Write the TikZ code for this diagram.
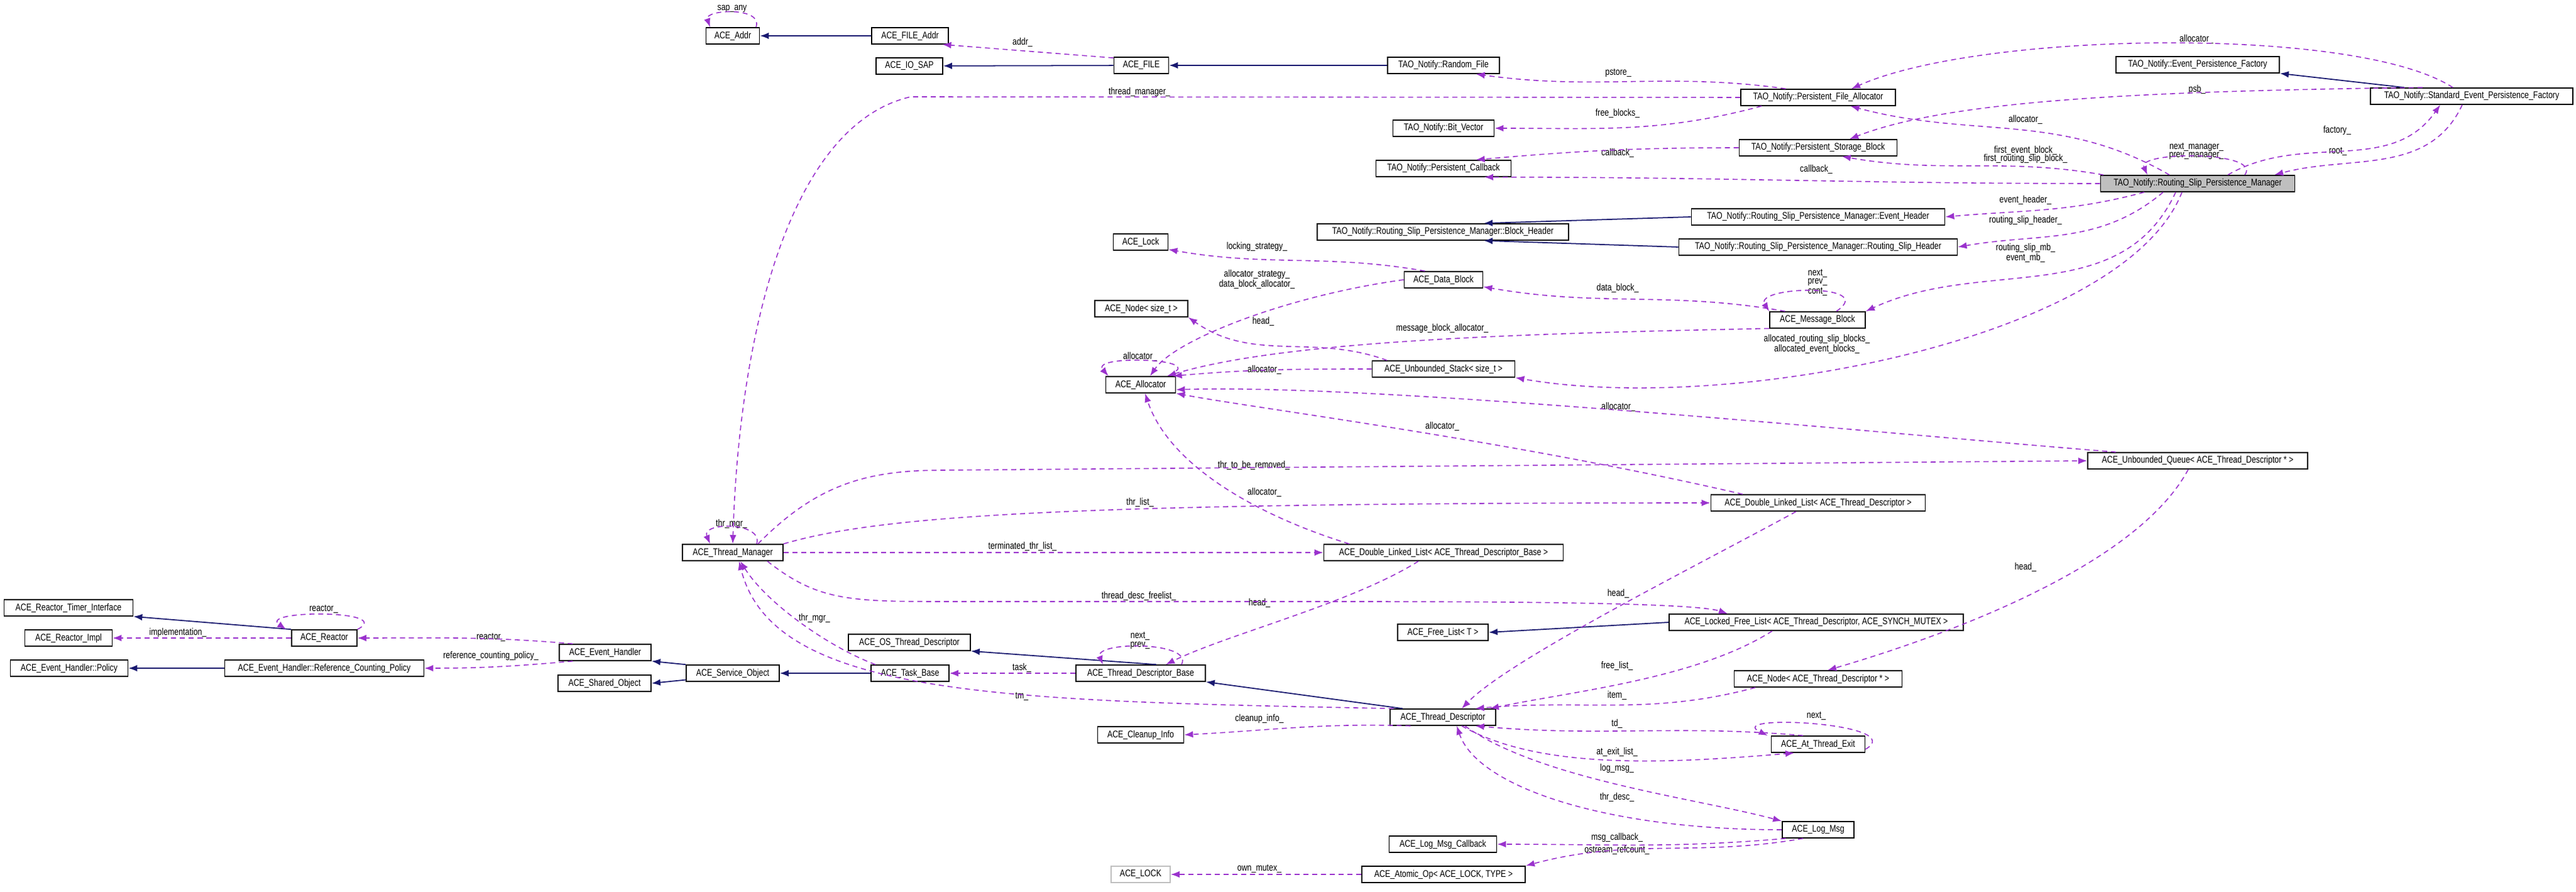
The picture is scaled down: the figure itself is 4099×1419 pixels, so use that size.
\documentclass[tikz,border=0pt]{standalone}
\usepackage{fontspec}
\setmainfont{Liberation Sans}[FakeStretch=0.8]
\usetikzlibrary{arrows.meta}
\definecolor{purp}{RGB}{154,50,205}
\definecolor{navyc}{RGB}{25,25,112}
\definecolor{gfill}{RGB}{191,191,191}
\begin{document}
\begin{tikzpicture}[x=0.01cm,y=-0.01cm,
  box/.style={draw=black,line width=0.45pt,minimum height=0.26cm,inner sep=0pt,font=\fontsize{4.4}{5}\selectfont},
  lbl/.style={inner sep=0pt,font=\fontsize{4.4}{5}\selectfont},
  dep/.style={draw=purp,line width=0.45pt,dash pattern=on 2.3pt off 1.7pt,-{Latex[length=4pt,width=3pt]}},
  inh/.style={draw=navyc,line width=0.5pt,-{Latex[length=4pt,width=3pt]}}]
\useasboundingbox (0,0) rectangle (4099,1419);
% nodes
\node[box,minimum width=0.85cm] (addr) at (1166,57) {ACE\_Addr};
\node[box,minimum width=1.22cm] (fileaddr) at (1448,57) {ACE\_FILE\_Addr};
\node[box,minimum width=1.06cm] (iosap) at (1447,105) {ACE\_IO\_SAP};
\node[box,minimum width=0.87cm] (file) at (1816,104) {ACE\_FILE};
\node[box,minimum width=1.78cm] (rf) at (2297,104) {TAO\_Notify::Random\_File};
\node[box,minimum width=2.46cm] (pfa) at (2893,155) {TAO\_Notify::Persistent\_File\_Allocator};
\node[box,minimum width=1.61cm] (bv) at (2297,204) {TAO\_Notify::Bit\_Vector};
\node[box,minimum width=2.51cm] (psb) at (2893,235) {TAO\_Notify::Persistent\_Storage\_Block};
\node[box,minimum width=2.15cm] (pc) at (2297,268) {TAO\_Notify::Persistent\_Callback};
\node[box,minimum width=4.00cm] (bh) at (2296,369) {TAO\_Notify::Routing\_Slip\_Persistence\_Manager::Block\_Header};
\node[box,minimum width=4.03cm] (eh) at (2893,345) {TAO\_Notify::Routing\_Slip\_Persistence\_Manager::Event\_Header};
\node[box,minimum width=4.43cm] (rsh) at (2893,393) {TAO\_Notify::Routing\_Slip\_Persistence\_Manager::Routing\_Slip\_Header};
\node[box,minimum width=2.60cm] (epf) at (3497,103) {TAO\_Notify::Event\_Persistence\_Factory};
\node[box,minimum width=3.22cm] (sepf) at (3933,153) {TAO\_Notify::Standard\_Event\_Persistence\_Factory};
\node[box,minimum width=3.09cm,fill=gfill] (rspm) at (3497,292) {TAO\_Notify::Routing\_Slip\_Persistence\_Manager};
\node[box,minimum width=0.87cm] (lock) at (1815,385) {ACE\_Lock};
\node[box,minimum width=1.25cm] (db) at (2297,445) {ACE\_Data\_Block};
\node[box,minimum width=1.48cm] (node) at (1816,491) {ACE\_Node< size\_t >};
\node[box,minimum width=1.52cm] (mb) at (2892,509) {ACE\_Message\_Block};
\node[box,minimum width=1.11cm] (alloc) at (1815,612) {ACE\_Allocator};
\node[box,minimum width=2.27cm] (us) at (2297,587) {ACE\_Unbounded\_Stack< size\_t >};
\node[box,minimum width=3.50cm] (uq) at (3497,733) {ACE\_Unbounded\_Queue< ACE\_Thread\_Descriptor * >};
\node[box,minimum width=3.41cm] (dlltd) at (2893,800) {ACE\_Double\_Linked\_List< ACE\_Thread\_Descriptor >};
\node[box,minimum width=1.60cm] (tm) at (1166,879) {ACE\_Thread\_Manager};
\node[box,minimum width=3.81cm] (dlltdb) at (2297,879) {ACE\_Double\_Linked\_List< ACE\_Thread\_Descriptor\_Base >};
\node[box,minimum width=4.68cm] (lfl) at (2890,990) {ACE\_Locked\_Free\_List< ACE\_Thread\_Descriptor, ACE\_SYNCH\_MUTEX >};
\node[box,minimum width=1.44cm] (fl) at (2296,1006) {ACE\_Free\_List< T >};
\node[box,minimum width=1.94cm] (ostd) at (1447,1022) {ACE\_OS\_Thread\_Descriptor};
\node[box,minimum width=2.06cm] (tdb) at (1815,1071) {ACE\_Thread\_Descriptor\_Base};
\node[box,minimum width=1.24cm] (tb) at (1448,1071) {ACE\_Task\_Base};
\node[box,minimum width=1.48cm] (so) at (1166,1071) {ACE\_Service\_Object};
\node[box,minimum width=1.46cm] (eventh) at (963,1038) {ACE\_Event\_Handler};
\node[box,minimum width=1.48cm] (sho) at (962,1087) {ACE\_Shared\_Object};
\node[box,minimum width=1.68cm] (td) at (2296,1141) {ACE\_Thread\_Descriptor};
\node[box,minimum width=1.37cm] (cleanup) at (1815,1169) {ACE\_Cleanup\_Info};
\node[box,minimum width=2.67cm] (nodetd) at (2893,1080) {ACE\_Node< ACE\_Thread\_Descriptor * >};
\node[box,minimum width=1.49cm] (ate) at (2893,1184) {ACE\_At\_Thread\_Exit};
\node[box,minimum width=1.14cm] (logmsg) at (2893,1320) {ACE\_Log\_Msg};
\node[box,minimum width=1.71cm] (lmc) at (2296,1343) {ACE\_Log\_Msg\_Callback};
\node[box,minimum width=2.60cm] (atomic) at (2297,1391) {ACE\_Atomic\_Op< ACE\_LOCK, TYPE >};
\node[box,minimum width=0.94cm,draw=gfill] (acelock) at (1815,1391) {ACE\_LOCK};
\node[box,minimum width=2.05cm] (rti) at (109,967) {ACE\_Reactor\_Timer\_Interface};
\node[box,minimum width=1.39cm] (rimpl) at (109,1015) {ACE\_Reactor\_Impl};
\node[box,minimum width=1.87cm] (policy) at (110,1063) {ACE\_Event\_Handler::Policy};
\node[box,minimum width=1.04cm] (reactor) at (516,1015) {ACE\_Reactor};
\node[box,minimum width=3.17cm] (rcp) at (516,1063) {ACE\_Event\_Handler::Reference\_Counting\_Policy};
% labels
\node[lbl] (l1) at (1165,14) {sap\_any};
\node[lbl] (l2) at (1627,67) {addr\_};
\node[lbl] (l3) at (2575,116) {pstore\_};
\node[lbl] (l4) at (1813,147) {thread\_manager\_};
\node[lbl] (l5) at (2574,180) {free\_blocks\_};
\node[lbl] (l6) at (2574,243) {callback\_};
\node[lbl] (l7) at (2890,269) {callback\_};
\node[lbl] (l8) at (3495,62) {allocator\_};
\node[lbl] (l9) at (3496,143) {psb\_};
\node[lbl] (l10) at (3223,190) {allocator\_};
\node[lbl] (l11) at (3223,239) {first\_event\_block\_};
\node[lbl] (l12) at (3223,253) {first\_routing\_slip\_block\_};
\node[lbl] (l13) at (3495,234) {next\_manager\_};
\node[lbl] (l14) at (3495,248) {prev\_manager\_};
\node[lbl] (l15) at (3719,208) {factory\_};
\node[lbl] (l16) at (3720,241) {root\_};
\node[lbl] (l17) at (3223,318) {event\_header\_};
\node[lbl] (l18) at (3223,351) {routing\_slip\_header\_};
\node[lbl] (l19) at (3223,395) {routing\_slip\_mb\_};
\node[lbl] (l20) at (3223,410) {event\_mb\_};
\node[lbl] (l21) at (2000,393) {locking\_strategy\_};
\node[lbl] (l22) at (2000,437) {allocator\_strategy\_};
\node[lbl] (l23) at (2000,452) {data\_block\_allocator\_};
\node[lbl] (l24) at (2574,458) {data\_block\_};
\node[lbl] (l25) at (2892,435) {next\_};
\node[lbl] (l26) at (2892,449) {prev\_};
\node[lbl] (l27) at (2892,464) {cont\_};
\node[lbl] (l28) at (2010,511) {head\_};
\node[lbl] (l29) at (2295,523) {message\_block\_allocator\_};
\node[lbl] (l30) at (2891,540) {allocated\_routing\_slip\_blocks\_};
\node[lbl] (l31) at (2891,555) {allocated\_event\_blocks\_};
\node[lbl] (l32) at (1814,567) {allocator\_};
\node[lbl] (l33) at (2012,588) {allocator\_};
\node[lbl] (l34) at (2575,647) {allocator\_};
\node[lbl] (l35) at (2295,678) {allocator\_};
\node[lbl] (l36) at (1995,740) {thr\_to\_be\_removed\_};
\node[lbl] (l37) at (2012,783) {allocator\_};
\node[lbl] (l38) at (1814,799) {thr\_list\_};
\node[lbl] (l39) at (1164,834) {thr\_mgr\_};
\node[lbl] (l40) at (1627,869) {terminated\_thr\_list\_};
\node[lbl] (l41) at (3223,902) {head\_};
\node[lbl] (l42) at (1812,948) {thread\_desc\_freelist\_};
\node[lbl] (l43) at (2575,944) {head\_};
\node[lbl] (l44) at (2004,959) {head\_};
\node[lbl] (l45) at (1296,983) {thr\_mgr\_};
\node[lbl] (l46) at (1814,1012) {next\_};
\node[lbl] (l47) at (1814,1027) {prev\_};
\node[lbl] (l48) at (2573,1059) {free\_list\_};
\node[lbl] (l49) at (1626,1062) {task\_};
\node[lbl] (l50) at (2573,1106) {item\_};
\node[lbl] (l51) at (1626,1108) {tm\_};
\node[lbl] (l52) at (2004,1143) {cleanup\_info\_};
\node[lbl] (l53) at (2573,1151) {td\_};
\node[lbl] (l54) at (2573,1196) {at\_exit\_list\_};
\node[lbl] (l55) at (2573,1222) {log\_msg\_};
\node[lbl] (l56) at (2573,1268) {thr\_desc\_};
\node[lbl] (l57) at (2573,1332) {msg\_callback\_};
\node[lbl] (l58) at (2573,1352) {ostream\_refcount\_};
\node[lbl] (l59) at (2004,1382) {own\_mutex\_};
\node[lbl] (l60) at (515,969) {reactor\_};
\node[lbl] (l61) at (283,1006) {implementation\_};
\node[lbl] (l62) at (781,1014) {reactor\_};
\node[lbl] (l63) at (781,1043) {reference\_counting\_policy\_};
\node[lbl] (l64) at (2890,1139) {next\_};
% inheritance
\draw[inh] (fileaddr) -- (addr);
\draw[inh] (file) -- (iosap);
\draw[inh] (rf) -- (file);
\draw[inh] ([xshift=-1.07cm]sepf.north) -- (epf.south east);
\draw[inh] (eh.west) -- (bh.12);
\draw[inh] (rsh.west) -- (bh.-12);
\draw[inh] (lfl.west) -- (fl.east);
\draw[inh] ([xshift=-0.64cm]td.north) -- (tdb.south east);
\draw[inh] ([xshift=0.25cm]tdb.north) -- (ostd.south east);
\draw[inh] (tb) -- (so);
\draw[inh] (so.north west) -- (eventh.south east);
\draw[inh] (so.-172) -- (sho.east);
\draw[inh] (reactor.north west) -- (rti.south east);
\draw[inh] (rcp) -- (policy);
% dependencies
\draw[dep] ([xshift=0.37cm]addr.north) .. controls (1215,10) and (1120,15) .. ([xshift=-0.36cm]addr.north);
\draw[dep] (file.165) -- (fileaddr.-15);
\draw[dep] (pfa.165) to[out=172,in=-8] (rf.-15);
\draw[dep] ([xshift=-0.9cm]pfa.south) to[out=195,in=0] (bv.east);
\draw[dep] (pfa.west) -- (1449,154) .. controls (1250,200) and (1175,550) .. (tm.north);
\draw[dep] (psb.west) to[out=180,in=5] (pc.15);
\draw[dep] (rspm.west) to[out=180,in=0] (pc.-12);
\draw[dep] ([xshift=-0.45cm]rspm.north) to[out=150,in=-15] (pfa.-15);
\draw[dep] ([xshift=-0.3cm]sepf.north) .. controls (3750,40) and (3150,50) .. ([xshift=0.53cm]pfa.north);
\draw[dep] (sepf.170) .. controls (3400,145) and (3100,160) .. ([xshift=0.5cm]psb.north);
\draw[dep] ([xshift=0.48cm]rspm.north) to[out=30,in=-125] ([xshift=-0.5cm]sepf.south);
\draw[dep] ([xshift=-0.15cm]sepf.south) to[out=-115,in=15] ([xshift=1.22cm]rspm.north);
\draw[dep] ([xshift=0.75cm]rspm.north) .. controls (3600,240) and (3400,240) .. ([xshift=-0.8cm]rspm.north);
\draw[dep] ([xshift=-1.5cm]rspm.north) to[out=170,in=-10] (psb.-20);
\draw[dep] ([xshift=-0.85cm]rspm.south) to[out=-165,in=5] (eh.east);
\draw[dep] ([xshift=-0.55cm]rspm.south) to[out=-140,in=10] (rsh.east);
\draw[dep] ([xshift=-0.35cm]rspm.south) to[out=-115,in=25] (mb.north east);
\draw[dep] ([xshift=-0.25cm]rspm.south) .. controls (3380,540) and (2750,660) .. (us.south east);
\draw[dep] (db.155) to[out=170,in=-10] (lock.-15);
\draw[dep] (db.west) .. controls (2050,470) and (1870,540) .. ([xshift=0.15cm]alloc.north);
\draw[dep] (mb.165) to[out=170,in=-10] (db.-10);
\draw[dep] ([xshift=0.3cm]mb.north) .. controls (2990,450) and (2790,455) .. (mb.north west);
\draw[dep] (mb.190) .. controls (2450,530) and (2050,540) .. ([xshift=0.42cm]alloc.north);
\draw[dep] ([xshift=-0.9cm]us.north) to[out=160,in=-35] (node.south east);
\draw[dep] (us.west) to[out=180,in=5] (alloc.15);
\draw[dep] ([xshift=-1.3cm]uq.north) .. controls (3000,690) and (2200,610) .. (alloc.-8);
\draw[dep] ([xshift=-0.15cm]uq.south) .. controls (3400,900) and (3100,1010) .. ([xshift=0.15cm]nodetd.north);
\draw[dep] ([xshift=0.4cm]tm.north) .. controls (1300,770) and (1380,748) .. (1500,748) -- (uq.west);
\draw[dep] (tm.north east) .. controls (1400,820) and (1700,800) .. (dlltd.west);
\draw[dep] (tm.east) -- (dlltdb.west);
\draw[dep] ([xshift=0.55cm]tm.south) .. controls (1300,955) and (1350,957) .. (1500,957) -- (2150,957) .. controls (2450,957) and (2700,960) .. ([xshift=-1.41cm]lfl.north);
\draw[dep] ([xshift=-1.2cm]dlltd.north) .. controls (2400,700) and (2000,650) .. (alloc.south east);
\draw[dep] ([xshift=-0.35cm]dlltd.south) .. controls (2700,900) and (2400,1050) .. ([xshift=0.3cm]td.north);
\draw[dep] ([xshift=-1.5cm]dlltdb.north) .. controls (2000,820) and (1860,740) .. ([xshift=0.07cm]alloc.south);
\draw[dep] ([xshift=-0.4cm]dlltdb.south) .. controls (2150,960) and (1950,1010) .. ([xshift=0.4cm]tdb.north);
\draw[dep] ([xshift=-0.7cm]lfl.south) .. controls (2700,1080) and (2500,1100) .. ([xshift=-0.1cm]td.north east);
\draw[dep] ([xshift=-1.0cm]nodetd.south) to[out=-165,in=5] (td.15);
\draw[dep] (ate.150) to[out=175,in=-5] (td.-15);
\draw[dep] ([xshift=0.3cm]td.south) .. controls (2450,1225) and (2650,1215) .. (ate.-160);
\draw[dep] ([yshift=-0.08cm]ate.east) .. controls (3040,1150) and (2740,1135) .. ([xshift=-0.05cm]ate.north west);
\draw[dep] ([xshift=0.35cm]td.south) .. controls (2450,1240) and (2700,1270) .. (logmsg.north west);
\draw[dep] (logmsg.west) .. controls (2550,1320) and (2350,1250) .. ([xshift=0.22cm]td.south);
\draw[dep] (logmsg.-165) to[out=185,in=0] (lmc.east);
\draw[dep] (logmsg.-150) to[out=-170,in=15] (atomic.north east);
\draw[dep] (atomic) -- (acelock);
\draw[dep] ([xshift=0.65cm]tdb.north) .. controls (1900,1020) and (1740,1020) .. ([xshift=-0.6cm]tdb.north);
\draw[dep] (td.-165) to[out=178,in=3] (cleanup.east);
\draw[dep] (td.170) .. controls (1600,1115) and (1230,1110) .. ([xshift=0.1cm]tm.south);
\draw[dep] (tdb) -- (tb);
\draw[dep] ([xshift=-0.55cm]tb.north) .. controls (1320,1030) and (1220,960) .. ([xshift=0.12cm]tm.south);
\draw[dep] (eventh.165) to[out=175,in=0] (reactor.east);
\draw[dep] (eventh.-165) to[out=185,in=0] (rcp.east);
\draw[dep] (reactor) -- (rimpl);
\draw[dep] (reactor.north east) .. controls (630,970) and (410,970) .. ([xshift=-0.08cm]reactor.north west);
\draw[dep] ([yshift=0.08cm]alloc.north east) .. controls (1900,570) and (1735,565) .. ([xshift=0.05cm]alloc.north west);
\draw[dep] ([xshift=0.38cm]tm.north) .. controls (1215,830) and (1115,830) .. ([xshift=-0.36cm]tm.north);
\end{tikzpicture}
\end{document}
